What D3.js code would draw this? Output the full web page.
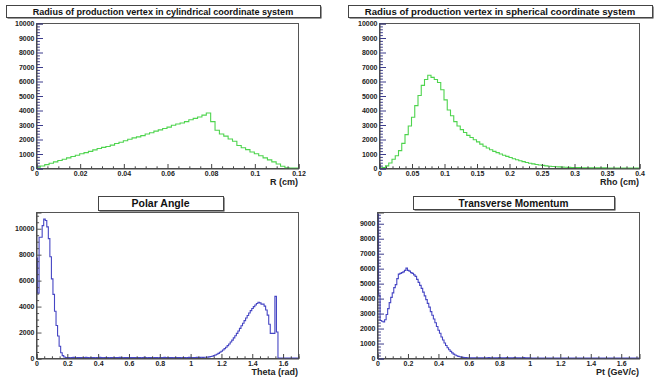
<!DOCTYPE html>
<html><head><meta charset="utf-8">
<script src="https://cdn.jsdelivr.net/npm/d3@7"></script>
<style>body{margin:0;background:#fff}svg{display:block}</style>
</head><body><svg id="c" width="654" height="377"></svg>
<script>
// ---------- DATA ----------
const cylTitle = "Radius of production vertex in cylindrical coordinate system";
const cylXLabel = "R (cm)";
const cylXMax = 0.12, cylYMax = 10000, cylBinWidth = 0.002;
const cylValues = [
  50,140,230,330,420,520,600,700,790,880,
  980,1060,1150,1250,1340,1420,1480,1580,1690,1780,
  1880,1980,2080,2150,2230,2340,2430,2540,2630,2720,
  2820,2950,3030,3100,3200,3330,3420,3520,3650,3790,
  3200,2600,2350,2200,2000,1850,1550,1400,1270,1100,
  980,850,700,560,420,280,120,20,0,0
];

const sphTitle = "Radius of production vertex in spherical coordinate system";
const sphXLabel = "Rho (cm)";
const sphXMax = 0.4, sphYMax = 10000, sphBinWidth = 0.005;
const sphValues = [
  0,30,150,350,600,850,1200,1700,2300,2900,
  3500,4300,5000,5700,6100,6400,6250,6100,5900,5400,
  4700,4000,3600,3200,2900,2650,2450,2250,2100,1950,
  1800,1650,1500,1380,1260,1150,1060,970,880,800,
  720,640,570,500,440,380,330,285,245,210,
  180,150,125,105,90,75,63,52,43,36,
  30,25,21,18,15,12,10,8,7,6,
  5,4,3,3,2,2,1,1,0,0
];

const polTitle = "Polar Angle";
const polXLabel = "Theta (rad)";
const polXMax = 1.7, polYMax = 11250, polBinWidth = 0.01;
const polValues = [
  7700,5000,9300,9300,10200,10700,10600,10100,9200,7800,
  6100,4900,3600,2500,1700,900,400,180,80,40,
  30,40,20,30,50,30,20,40,30,30,
  20,40,50,30,20,30,40,30,20,30,
  40,50,30,20,40,30,30,20,40,30,
  20,30,40,30,50,30,20,30,40,30,
  20,30,40,30,30,20,40,30,20,30,
  50,30,20,40,30,30,20,40,30,20,
  30,40,30,50,30,20,30,40,30,20,
  30,40,30,30,20,40,30,20,30,50,
  30,40,30,40,50,40,50,60,50,60,
  60,70,90,110,140,180,230,290,360,440,
  520,620,720,830,950,1080,1230,1380,1550,1720,
  1900,2080,2280,2480,2680,2880,3080,3280,3470,3650,
  3820,3960,4080,4200,4300,4250,4150,4150,4000,3700,
  3300,2600,1900,1900,1900,4750,2000,0,0,0,
  0,0,0,0,0,0,0,0,0,0
];

const ptTitle = "Transverse Momentum";
const ptXLabel = "Pt (GeV/c)";
const ptXMax = 1.72, ptYMax = 9750, ptBinWidth = 0.01;
const ptValues = [
  9600,4200,2500,2450,2400,2550,2900,3300,3700,4050,
  4350,4700,4900,5300,5600,5650,5700,5750,5850,6000,
  5850,5800,5700,5650,5550,5450,5250,5050,4850,4650,
  4400,4150,3900,3650,3400,3100,2850,2600,2350,2100,
  1850,1650,1400,1200,1000,830,680,550,440,340,
  260,200,150,110,80,60,45,35,25,20,
  15,20,10,15,10,20,10,15,20,10,
  15,10,20,30,15,10,20,10,15,20,
  30,20,15,10,20,30,20,10,15,20,
  30,20,10,15,20,10,25,15,10,20,
  10,5,0,5,0,0,5,0,0,0,
  0,0,0,0,0,0,0,0,0,0,
  0,0,0,0,0,0,0,0,0,0,
  0,0,0,0,0,0,0,0,0,0,
  0,0,0,0,0,0,0,0,0,0,
  0,0,0,0,0,0,0,0,0,0,
  0,0,0,0,0,0,0,0,0,0,
  0,0
];

// ---------- LAYOUT ----------
const FONT = '"Liberation Sans", Arial, Helvetica, sans-serif';
const GREEN = "#4ed44e", BLUE = "#4646c4", DENSE = "#3c3c8c";

const panels = [
  {title: cylTitle, box:[6,5,314,12], titleW:261, frame:[36,23,298,168],
   xMax:cylXMax, yMax:cylYMax, bw:cylBinWidth, values:cylValues, xLabel:cylXLabel,
   xMajor:0.02, xMinor:0.005, yMajor:1000, yMinor:200, dense:true, color:GREEN},
  {title: sphTitle, box:[348,5,304,12], titleW:271, frame:[379,23,639,168],
   xMax:sphXMax, yMax:sphYMax, bw:sphBinWidth, values:sphValues, xLabel:sphXLabel,
   xMajor:0.05, xMinor:0.01, yMajor:1000, yMinor:200, dense:true, color:GREEN},
  {title: polTitle, box:[98,196,125,14], titleW:58, frame:[36,212,298,358],
   xMax:polXMax, yMax:polYMax, bw:polBinWidth, values:polValues, xLabel:polXLabel,
   xMajor:0.2, xMinor:0.05, yMajor:2000, yMinor:500, dense:false, color:BLUE},
  {title: ptTitle, box:[413,196,201,13], titleW:110, frame:[377,212,639,358],
   xMax:ptXMax, yMax:ptYMax, bw:ptBinWidth, values:ptValues, xLabel:ptXLabel,
   xMajor:0.2, xMinor:0.05, yMajor:1000, yMinor:200, dense:true, color:BLUE}
];

const svg = d3.select("#c");
svg.append("rect").attr("width",654).attr("height",377).attr("fill","#fff");

function steps(max, step){
  const n = Math.floor(max/step + 1e-6);
  return d3.range(n+1).map(i => +(i*step).toFixed(6));
}

panels.forEach((p, pi) => {
  const [fx0, fy0, fx1, fy1] = p.frame;
  const g = svg.append("g");
  const x = d3.scaleLinear().domain([0, p.xMax]).range([fx0, fx1]);
  const y = d3.scaleLinear().domain([0, p.yMax]).range([fy1, fy0]);

  // frame
  g.append("rect").attr("x", fx0+0.5).attr("y", fy0+0.5)
    .attr("width", fx1-fx0).attr("height", fy1-fy0)
    .attr("fill","none").attr("stroke","#555").attr("stroke-width",1);

  // histogram
  const pts = p.values.map((v,i) => [i*p.bw, v]);
  pts.push([p.values.length*p.bw, p.values[p.values.length-1]]);
  const clipId = "clip"+pi;
  g.append("clipPath").attr("id", clipId).append("rect")
    .attr("x", fx0).attr("y", fy0-1).attr("width", fx1-fx0+1).attr("height", fy1-fy0+2);
  g.append("path").datum(pts)
    .attr("clip-path", `url(#${clipId})`)
    .attr("d", d3.line().x(d => x(d[0])).y(d => y(d[1])).curve(d3.curveStepAfter))
    .attr("fill","none").attr("stroke", p.color).attr("stroke-width", 1.1);

  // x axis
  const xMaj = steps(p.xMax, p.xMajor);
  const xMin = steps(p.xMax, p.xMinor).filter(v => !xMaj.some(m => Math.abs(m-v) < 1e-6));
  const xMinG = g.append("g").attr("transform", `translate(0.5,${fy1+0.5})`)
    .call(d3.axisBottom(x).tickValues(xMin).tickSize(-2.2).tickFormat(""));
  xMinG.select(".domain").remove();
  const xMajG = g.append("g").attr("transform", `translate(0.5,${fy1+0.5})`)
    .call(d3.axisBottom(x).tickValues(xMaj).tickSize(-4.5).tickPadding(2.5).tickFormat(d3.format("~g")));
  xMajG.select(".domain").attr("stroke","#444");
  [xMinG, xMajG].forEach(s => s.selectAll("line").attr("stroke","#444"));
  xMajG.selectAll("text").attr("font-family", FONT).attr("font-weight","bold")
    .attr("font-size", 7).attr("fill","#222");

  // y axis
  const yMaj = steps(p.yMax, p.yMajor);
  const yMin = steps(p.yMax, p.yMinor).filter(v => !yMaj.some(m => Math.abs(m-v) < 1e-6));
  const yMinG = g.append("g").attr("transform", `translate(${fx0+0.5},0.5)`)
    .call(d3.axisLeft(y).tickValues(yMin).tickSize(p.dense ? -3.4 : -2.6).tickFormat(""));
  yMinG.select(".domain").remove();
  yMinG.selectAll("line").attr("stroke", p.dense ? DENSE : "#555").attr("stroke-width", p.dense ? 1 : 1);
  const yMajG = g.append("g").attr("transform", `translate(${fx0+0.5},0.5)`)
    .call(d3.axisLeft(y).tickValues(yMaj).tickSize(p.dense ? -6.5 : -5).tickPadding(2).tickFormat(d3.format("~g")));
  yMajG.select(".domain").attr("stroke","#444");
  yMajG.selectAll("line").attr("stroke", p.dense ? DENSE : "#555");
  yMajG.selectAll("text").attr("font-family", FONT).attr("font-weight","bold")
    .attr("font-size", 7).attr("fill","#222");

  // axis title
  g.append("text").attr("x", fx1).attr("y", fy1 + 16.5).attr("text-anchor","end")
    .attr("font-family", FONT).attr("font-weight","bold").attr("font-size", 9)
    .attr("fill","#222").text(p.xLabel);

  // title box
  const [bx, by, bw, bh] = p.box;
  g.append("rect").attr("x", bx+1.5).attr("y", by+1.5).attr("width", bw).attr("height", bh).attr("fill","#333");
  g.append("rect").attr("x", bx+0.5).attr("y", by+0.5).attr("width", bw).attr("height", bh)
    .attr("fill","#fff").attr("stroke","#444").attr("stroke-width",1);
  const t = g.append("text").attr("x", bx + bw/2).attr("text-anchor","middle")
    .attr("font-family", FONT).attr("font-weight","bold").attr("font-size", 11)
    .attr("fill","#111").text(p.title);
  const w = t.node().getComputedTextLength();
  const fs = 11 * p.titleW / w;
  t.attr("font-size", fs).attr("y", by + bh/2 + 0.5 + fs*0.36);
});
</script>
</body></html>
